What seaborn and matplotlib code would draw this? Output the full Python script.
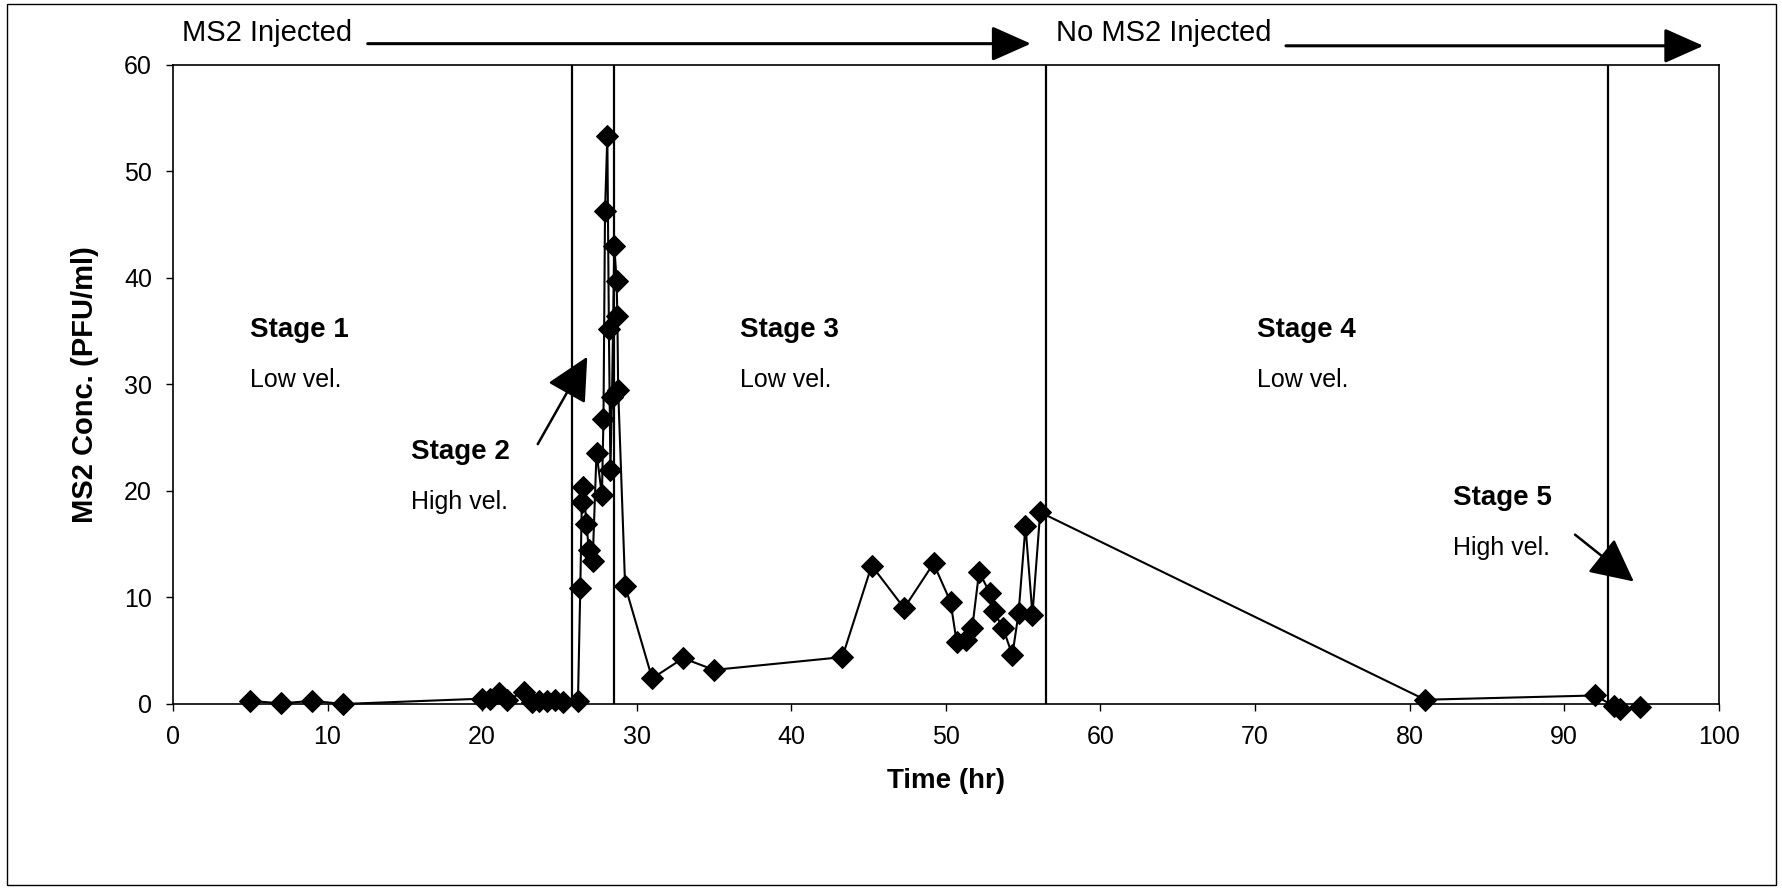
import matplotlib
matplotlib.use("Agg")
import matplotlib.pyplot as plt
import seaborn as sns
import pandas as pd
from matplotlib.patches import Rectangle

time_hr = [5, 7, 9, 11, 20.0, 20.5, 21.1, 21.6, 22.7, 23.2, 23.7, 24.2, 24.7, 25.2, 26.2,
           26.35, 26.45, 26.55, 26.75, 26.9, 27.15, 27.4, 27.75, 27.85, 27.95, 28.1, 28.2,
           28.3, 28.4, 28.55, 28.7, 28.75, 28.8, 29.25, 31.0, 33.0, 35.0, 43.3, 45.2, 47.3,
           49.2, 50.3, 50.7, 51.3, 51.7, 52.15, 52.85, 53.1, 53.7, 54.3, 54.7, 55.15, 55.6,
           56.1, 81.0, 92.0, 93.2, 93.6, 94.9]
conc = [0.3, 0.05, 0.3, 0.0, 0.5, 0.5, 1.0, 0.4, 1.1, 0.2, 0.3, 0.3, 0.4, 0.2, 0.3,
        10.9, 19.0, 20.4, 16.9, 14.5, 13.4, 23.6, 19.6, 26.8, 46.3, 53.3, 35.2,
        22.0, 28.8, 43.0, 39.7, 36.4, 29.5, 11.1, 2.4, 4.3, 3.2, 4.4, 13.0, 9.0,
        13.2, 9.6, 5.8, 6.0, 7.1, 12.4, 10.4, 8.7, 7.1, 4.6, 8.5, 16.7, 8.4,
        18.0, 0.4, 0.8, -0.2, -0.5, -0.3]

stage_bounds = [25.8, 28.55, 56.5, 92.8]
stage_names = ["Stage 1", "Stage 2", "Stage 3", "Stage 4", "Stage 5"]
stage_vel = ["Low vel.", "High vel.", "Low vel.", "Low vel.", "High vel."]
stage_label_pos = [(5.0, 35.1), (15.4, 23.7), (36.7, 35.1), (70.1, 35.1), (82.8, 19.3)]
x_ticks = list(range(0, 101, 10))
y_ticks = list(range(0, 61, 10))

df = pd.DataFrame({"Time (hr)": time_hr, "conc": conc})

sns.set_theme(style="white")
plt.rcParams['font.family'] = ['Liberation Sans', 'DejaVu Sans']
plt.rcParams['text.color'] = 'black'
plt.rcParams['axes.labelcolor'] = 'black'

fig = plt.figure(figsize=(17.83, 8.90), dpi=100)
ax = fig.add_axes([0.097, 0.209, 0.867, 0.718])

sns.lineplot(data=df, x="Time (hr)", y="conc", ax=ax, color="black", lw=1.5,
             marker="D", markersize=11, markeredgecolor="black", estimator=None,
             sort=True, clip_on=False)

for b in stage_bounds:
    ax.axvline(b, color="black", lw=1.6)

ax.set_xlim(0, 100)
ax.set_ylim(0, 60)
ax.set_xticks(x_ticks)
ax.set_yticks(y_ticks)
ax.tick_params(axis="both", direction="out", length=5, width=1, labelsize=18,
               colors="black", bottom=True, left=True, pad=10)
for s in ax.spines.values():
    s.set_color("black")
    s.set_linewidth(1.2)
ax.set_xlabel("Time (hr)", fontsize=20, fontweight="bold", labelpad=14, color="black")
ax.set_ylabel("MS2 Conc. (PFU/ml)", fontsize=21, fontweight="bold", labelpad=18,
              color="black")

for name, vel, (sx, sy) in zip(stage_names, stage_vel, stage_label_pos):
    ax.text(sx, sy, name, fontsize=20, fontweight="bold", ha="left", va="center",
            color="black")
    ax.text(sx, sy - 4.7, vel, fontsize=18, ha="left", va="center", color="black")

arrow_kw = dict(arrowstyle="-|>,head_length=0.9,head_width=0.45", color="black",
                lw=1.8, mutation_scale=30, shrinkA=0, shrinkB=0)
top_arrow_kw = dict(arrowstyle="-|>,head_length=0.9,head_width=0.4", color="black",
                    lw=2.2, mutation_scale=27, shrinkA=0, shrinkB=0)
ax.annotate("", xy=(26.8, 32.6), xytext=(23.6, 24.4), arrowprops=arrow_kw,
            annotation_clip=False)
ax.annotate("", xy=(94.5, 11.5), xytext=(90.7, 15.9), arrowprops=arrow_kw,
            annotation_clip=False)

ax.text(0.6, 63.0, "MS2 Injected", fontsize=21, ha="left", va="center",
        clip_on=False, color="black")
ax.annotate("", xy=(55.5, 62.0), xytext=(12.6, 62.0), arrowprops=top_arrow_kw,
            annotation_clip=False)
ax.text(57.1, 63.0, "No MS2 Injected", fontsize=21, ha="left", va="center",
        clip_on=False, color="black")
ax.annotate("", xy=(99.0, 61.8), xytext=(72.0, 61.8), arrowprops=top_arrow_kw,
            annotation_clip=False)

fig.patches.append(Rectangle((0.004, 0.006), 0.992, 0.99, transform=fig.transFigure,
                             fill=False, edgecolor="black", lw=1.0))

fig.savefig("out.png", dpi=100, facecolor="white")
